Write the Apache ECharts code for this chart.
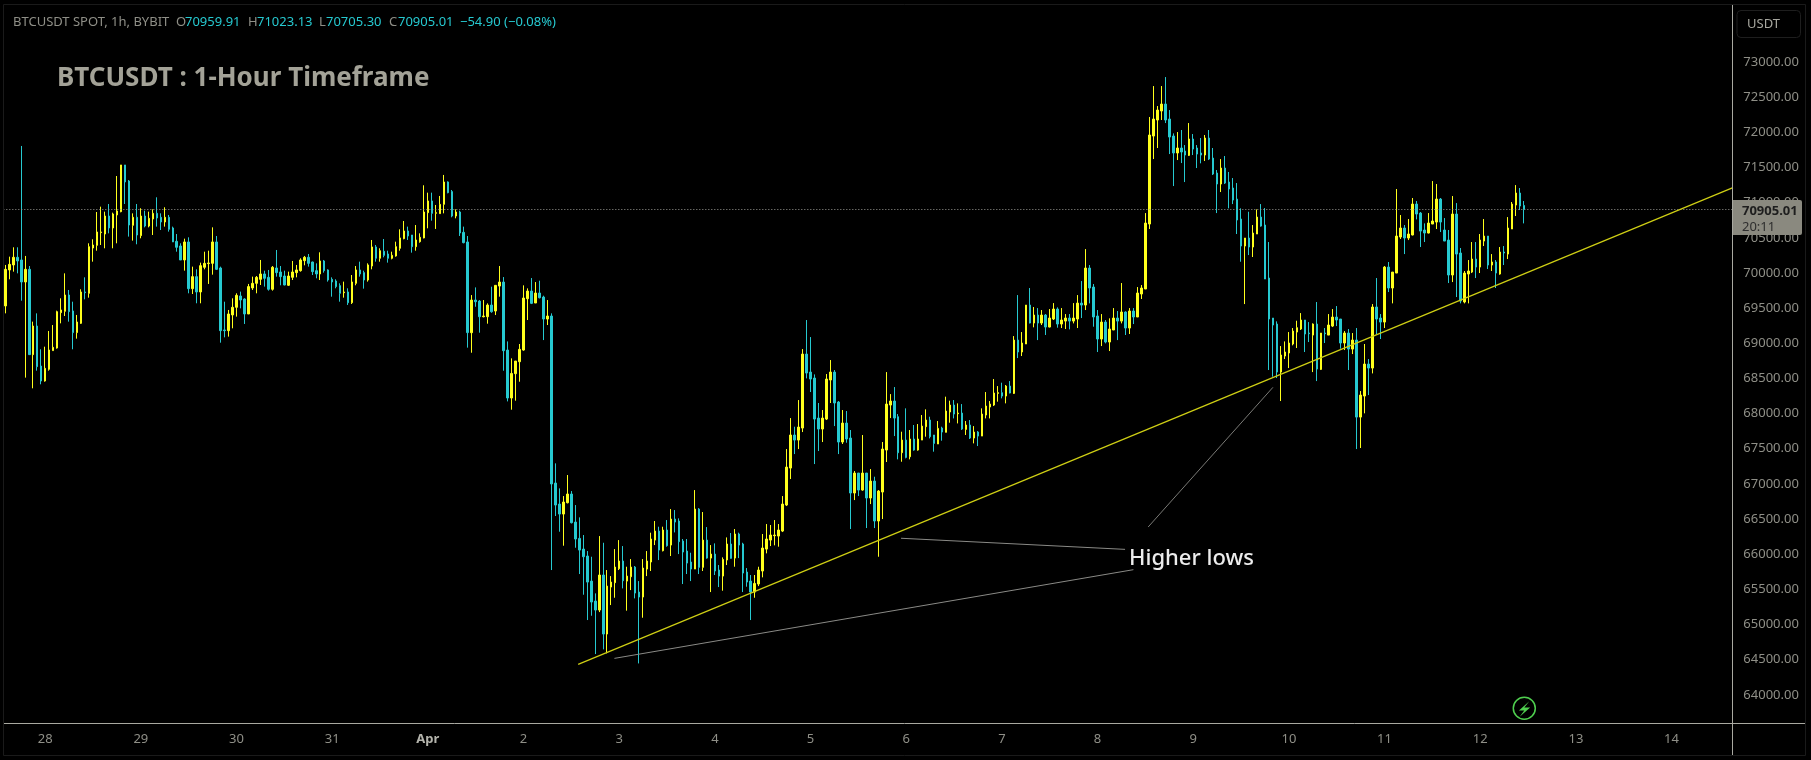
<!DOCTYPE html>
<html>
<head>
<meta charset="utf-8">
<style>html,body{margin:0;padding:0;background:#000;overflow:hidden}#c{width:1811px;height:760px}</style>
<script src="https://cdn.jsdelivr.net/npm/echarts@6/dist/echarts.min.js"></script>
</head>
<body>
<div id="c"></div>
<script>
const dayLabels = ['28','29','30','31','Apr','2','3','4','5','6','7','8','9','10','11','12','13','14'];
const opens = [
69531,70043,70114,70223,70185,69872,70052,68839,69246,68677,
68464,68630,68896,68933,69436,69455,69687,69460,69152,69284,
69730,69711,70355,70393,70574,70554,70810,70640,70825,70872,
71536,71308,70678,70792,70531,70810,70668,70768,70848,70792,
70725,70792,70640,70450,70384,70185,70441,69777,69948,69730,
70081,70133,70137,70441,70071,69190,69180,69403,69512,69673,
69630,69417,69787,69853,69910,69986,69938,69768,70071,70014,
69957,69825,69938,70005,70033,70175,70223,70156,70033,69986,
70171,70043,69910,69886,69820,69720,69730,69578,69853,70043,
70005,69900,70099,70370,70209,70308,70270,70209,70242,70351,
70488,70597,70540,70374,70445,70498,70858,71024,70848,70844,
70976,71294,71157,70810,70867,70578,70441,69151,69615,69601,
69378,69378,69544,69459,69814,69871,68904,68222,68568,68738,
68904,69634,69743,69573,69715,69658,69345,69388,67013,66714,
66572,66733,66857,66458,66226,66074,65975,65619,65335,65207,
65705,64866,65534,65596,65795,65904,65619,65681,65818,65463,
65392,65790,65890,66202,66330,66051,66345,66131,66501,66473,
66188,66046,65890,65790,66643,65814,66202,65946,66003,65776,
65690,65918,66146,65946,66288,66146,65747,65619,65463,65577,
65762,66074,66202,66264,66259,66330,66700,67226,67696,67624,
67795,68847,68591,68506,67937,67781,67923,68478,68591,68165,
67596,67866,67653,66871,67155,66913,67155,66800,67041,66473,
66885,67482,68122,68179,67956,67444,67624,67387,67639,67482,
67624,67814,67909,67696,67568,67795,67734,68023,68122,67999,
68008,67776,67838,67653,67738,67681,67980,68094,68122,68288,
68298,68250,68392,68288,69046,68876,68990,69544,69288,69402,
69288,69402,69231,69345,69487,69274,69316,69359,69316,69345,
69572,69544,70070,69800,69388,69061,69302,69018,69189,69359,
69316,69445,69217,69459,69374,69701,69772,70696,71947,72175,
72303,72402,72189,71947,71706,71777,71734,71672,71905,71777,
71706,71677,71919,71634,71421,71265,71492,71293,71208,71051,
70767,70383,70497,70369,70554,70795,70682,69928,69359,69274,
68591,68819,68862,68990,69160,69203,69331,69146,69117,69274,
68629,69146,69117,69245,69373,69345,69004,69146,68918,69046,
67951,68250,68705,68648,69516,69359,69302,70084,69786,69999,
70511,70639,70497,70540,70980,70852,70611,70568,70696,70724,
71051,70611,70468,69971,70838,70284,69587,69985,70013,70198,
70084,70454,70525,70113,70156,69985,70298,70269,70625,70966,
71137,70959.91];
const closes = [
70052,70123,70223,70171,69872,70052,68839,69246,68668,68464,
68644,68905,68943,69450,69474,69687,69450,69152,69303,69730,
69720,70374,70398,70583,70583,70810,70640,70839,70882,71536,
71294,70682,70792,70540,70810,70668,70777,70848,70782,70725,
70792,70621,70441,70365,70185,70441,69777,69948,69730,70104,
70137,70142,70441,70052,69180,69180,69417,69512,69682,69616,
69417,69806,69853,69938,69986,69924,69768,70081,70005,69948,
69829,69957,70014,70043,70185,70223,70137,70019,69986,70171,
70033,69900,69872,69806,69711,69730,69578,69872,70043,69986,
69900,70114,70370,70209,70317,70251,70209,70251,70374,70498,
70597,70526,70374,70469,70507,70867,71024,70848,70858,70976,
71294,71142,70810,70867,70569,70431,69152,69615,69591,69378,
69388,69544,69449,69824,69871,68895,68222,68572,68748,68914,
69644,69743,69568,69715,69648,69345,69388,67000,66700,66572,
66743,66857,66449,66217,66060,65965,65605,65321,65207,65705,
64866,65548,65605,65818,65904,65624,65690,65818,65449,65392,
65804,65904,66217,66330,66060,66345,66122,66501,66458,66179,
66032,65875,65790,66643,65814,66202,65946,66003,65762,65690,
65927,66146,65942,66288,66131,65733,65605,65463,65586,65776,
66089,66217,66274,66274,66345,66714,67240,67696,67624,67809,
68847,68577,68492,67923,67781,67937,68492,68591,68151,67596,
67866,67639,66871,67155,66913,67155,66800,67041,66473,66899,
67496,68136,68179,67937,67444,67624,67378,67639,67482,67639,
67823,67909,67672,67577,67790,67738,68037,68122,67994,68008,
67781,67838,67653,67738,67681,67994,68108,68136,68293,68298,
68250,68392,68293,69046,68876,69004,69544,69288,69402,69288,
69402,69231,69359,69487,69274,69331,69359,69316,69359,69572,
69544,70070,69786,69374,69061,69302,69018,69203,69359,69316,
69445,69217,69459,69374,69715,69786,70710,71962,72189,72317,
72402,72175,71933,71706,71777,71720,71677,71905,71762,71691,
71677,71919,71620,71407,71265,71492,71279,71194,71037,70753,
70383,70497,70369,70568,70795,70667,69914,69345,69260,68591,
68833,68876,69004,69174,69222,69331,69132,69137,69274,68634,
69146,69137,69260,69373,69331,69004,69146,68918,69046,67951,
68264,68705,68648,69516,69345,69302,70084,69786,70013,70525,
70639,70497,70554,70980,70838,70596,70568,70710,70739,71051,
70724,70454,69971,70838,70269,69601,69999,70028,70198,70084,
70468,70525,70113,70156,69999,70298,70284,70639,70980,71137,
70952,70905.01];
const highs = [
70114,70232,70365,70365,71806,70242,70099,69308,69426,68915,
68952,69175,69260,69464,69640,69995,69758,69592,69403,69768,
69938,70422,70479,70867,70943,70872,70981,70858,71379,71536,
71536,71322,70848,70981,70920,70886,70872,70905,71076,70848,
70934,70825,70659,70554,70422,70488,70507,70090,70052,70147,
70303,70317,70649,70526,70090,69592,69474,69640,69711,69735,
69640,69844,69948,69957,70185,70033,70043,70099,70327,70099,
70033,70019,70171,70114,70209,70242,70270,70161,70137,70294,
70185,70052,69938,69910,69853,69877,69782,69971,70099,70161,
70033,70137,70469,70398,70351,70483,70317,70303,70445,70621,
70739,70659,70540,70682,70564,71247,71142,71142,70967,71095,
71394,71303,71180,70905,70886,70659,70526,69686,69795,69615,
69615,69568,69805,69824,70099,69942,69027,68786,68748,68990,
69824,69781,69928,69871,69890,69677,69615,69426,67293,66937,
66828,67127,66899,66700,66525,66274,66046,65965,65444,66259,
66164,65776,65690,66074,66202,66117,65823,65932,65833,65619,
65932,66046,66307,66473,66392,66392,66487,66643,66629,66511,
66217,66217,66022,66913,66657,66601,66387,66131,66155,65847,
65956,66240,66302,66359,66307,66164,65804,65705,65705,65823,
66288,66430,66416,66487,66430,66828,67496,67937,67814,68193,
68918,69331,69089,68558,68151,68051,68563,68762,68620,68179,
68051,68037,67767,67184,67155,67696,67155,67212,67103,66913,
67596,68591,68278,68378,67994,67743,68075,67767,67838,67852,
67980,68061,67956,67696,67895,67814,68241,68184,68193,68146,
68136,67895,67909,67823,67752,68075,68307,68179,68492,68392,
68440,68407,68463,69103,69686,69160,69544,69786,69516,69501,
69473,69416,69487,69572,69511,69501,69416,69416,69572,69686,
69885,70340,70113,69843,69473,69416,69331,69355,69501,69459,
69857,69454,69501,69501,69800,69828,70852,72218,72658,72374,
72658,72786,72317,71985,72004,72033,71819,72132,71976,71819,
71919,71962,72033,71777,71464,71620,71663,71436,71350,71279,
70919,70497,70871,70682,70904,70980,70923,70440,69359,69312,
68961,69027,69160,69217,69321,69430,69331,69302,69283,69587,
69146,69217,69416,69487,69530,69345,69174,69203,69146,69217,
68321,68990,68776,69558,69928,69416,70099,70156,70013,71194,
70824,70682,70767,71066,71023,70867,70705,70852,71307,71265,
71066,70781,70611,71094,70994,70355,70028,70184,70440,70440,
70554,70767,70525,70269,70184,70369,70383,70795,71009,71250,
71208,71023.13];
const lows = [
69426,69910,70019,69995,69606,68512,68839,68360,68611,68417,
68455,68611,68896,68924,69284,69388,69308,68915,69066,69275,
69625,69649,70161,70317,70398,70351,70564,70351,70422,70863,
70981,70517,70460,70408,70493,70649,70649,70540,70659,70611,
70659,70588,70441,70303,70185,70033,69711,69701,69569,69569,
70052,69844,69976,70043,69009,69085,69095,69213,69379,69497,
69275,69417,69758,69711,69829,69806,69749,69749,69948,69825,
69825,69815,69900,69938,70019,70109,70090,69971,69924,69900,
70005,69877,69663,69782,69592,69649,69545,69559,69825,69948,
69777,69877,70052,70161,70161,70223,70147,70194,70232,70317,
70479,70469,70289,70317,70431,70493,70635,70744,70626,70844,
70848,71133,70792,70777,70526,70422,68938,68866,69520,69151,
69369,69279,69435,69402,69663,68610,68174,68056,68184,68454,
68895,69331,69558,69573,69639,69046,69260,65776,66544,66321,
66122,66724,66439,66093,65719,65425,65065,65126,64581,65178,
64648,64591,65278,65382,65776,65515,65198,65491,65373,64448,
65098,65690,65762,66131,65918,66041,66108,65975,66311,66003,
65577,65719,65619,65790,65719,65762,65937,65463,65705,65534,
65482,65847,65937,65823,65946,65463,65539,65065,65382,65548,
65672,66013,66117,66127,66108,66316,66686,67070,67425,67496,
67738,68501,68307,67283,67468,67596,67909,68151,67823,67425,
67568,67586,66359,66771,66828,66904,66373,66714,66373,65965,
66501,67312,67937,67681,67350,67316,67364,67350,67473,67473,
67624,67672,67648,67459,67568,67615,67734,67871,67932,67861,
67767,67696,67639,67577,67539,67681,67932,67932,68108,68170,
68217,68146,68288,68279,68790,68819,68990,69283,69227,69046,
69260,69118,69227,69331,69222,69217,69203,69198,69283,69217,
69359,69473,69568,69236,68876,68961,68999,68890,69189,69046,
69283,69118,69132,69274,69374,69630,69772,70625,71620,71777,
72175,72132,71691,71236,71606,71563,71293,71663,71677,71492,
71559,71592,71606,71393,70852,71151,71265,70919,70980,70554,
70160,69558,70255,70227,70554,70658,69914,68620,68525,68506,
68179,68776,68648,68971,68933,69189,68876,69018,68591,68463,
68620,69004,69117,69231,69245,68923,68904,68620,68847,67496,
67511,68004,68264,68572,69132,69061,69217,69729,69568,69999,
70483,70269,70468,70535,70762,70369,70440,70563,70696,70625,
70582,70454,69857,69871,69658,69568,69568,69568,69999,69928,
69999,70383,70056,70028,69786,69975,70113,70198,70625,70810,
70895,70705.30];

const slotCount = 434;
const firstDayIndex = 10;
const hoursPerDay = 24;

// [bar index, price] end points of the drawn lines
const trendLine = [[143.7, 64435], [433.4, 71213]];
const noteLineA = [[152.8, 64520], [283.0, 65781]];
const noteLineB = [[224.7, 66228], [280.9, 66070]];
const noteLineC = [[286.7, 66388], [318.0, 68374]];

const UP = '#ffff1c', DOWN = '#26c9d0', TXT = '#8f8f87';
const FONT = '"Noto Sans", "Open Sans", sans-serif';

const categories = [];
for (let i = 0; i < slotCount; i++) {
  const k = (i - firstDayIndex) / hoursPerDay;
  categories.push(Number.isInteger(k) && dayLabels[k] !== undefined ? dayLabels[k] : 'h' + i);
}
const candles = opens.map((o, i) => [o, closes[i], lows[i], highs[i]]);
const lastClose = closes[closes.length - 1];

function noteSeries(points, color, width) {
  return {
    type: 'line', xAxisIndex: 1, yAxisIndex: 0, data: points, symbol: 'none', silent: true,
    lineStyle: { color: color, width: width }, z: 5, animation: false
  };
}
function label(text, x, y, fill, size, weight, family) {
  return { type: 'text', x: x, y: y, z: 50, silent: true,
    style: { text: text, fill: fill, fontSize: size, fontWeight: weight || 'normal',
      fontFamily: family || FONT, textVerticalAlign: 'middle', verticalAlign: 'middle' } };
}
const cx = 1524.3, cy = 708.3, GREEN = '#4fcf4f', S = 1.25;

const chart = echarts.init(document.getElementById('c'), null, { renderer: 'canvas' });
chart.setOption({
  animation: false,
  backgroundColor: '#000000',
  grid: { left: 3.34, top: 26.84, width: 1730, height: 703.26, containLabel: false, outerBoundsMode: 'none' },
  xAxis: [
    { type: 'category', data: categories, boundaryGap: true, position: 'bottom',
      axisLine: { show: false }, axisTick: { show: false }, splitLine: { show: false },
      axisLabel: {
        margin: 3, color: TXT, fontSize: 13, fontFamily: FONT, hideOverlap: false,
        interval: (i, v) => dayLabels.includes(v),
        formatter: v => v === 'Apr' ? '{b|Apr}' : v,
        rich: { b: { color: '#b4b4ac', fontSize: 13, fontWeight: 'bold', fontFamily: FONT } }
      } },
    { type: 'value', min: -0.5, max: slotCount - 0.5, show: false, position: 'top' }
  ],
  yAxis: [{
    type: 'value', position: 'right', min: 63500, max: 73500, interval: 500, scale: true,
    axisLine: { show: false }, axisTick: { show: false }, splitLine: { show: false },
    axisLabel: { margin: 10, color: TXT, fontSize: 13, fontFamily: FONT,
      formatter: v => (v >= 64000 && v <= 73000) ? v.toFixed(2) : '' }
  }],
  series: [
    { type: 'candlestick', xAxisIndex: 0, yAxisIndex: 0, data: candles, barWidth: 2, z: 3,
      itemStyle: { color: UP, color0: DOWN, borderColor: UP, borderColor0: DOWN, borderWidth: 1 },
      markLine: { silent: true, symbol: 'none', animation: false, label: { show: false },
        lineStyle: { color: '#9a9a94', type: [1, 2], width: 1 },
        data: [{ yAxis: lastClose }] } },
    noteSeries(trendLine, '#cfcf14', 1.2),
    noteSeries(noteLineA, '#8a8a86', 1),
    noteSeries(noteLineB, '#8a8a86', 1),
    noteSeries(noteLineC, '#7a7a76', 1)
  ],
  graphic: { elements: [
    { type: 'rect', z: 40, silent: true, shape: { x: 3.5, y: 4.5, width: 1802, height: 751 },
      style: { fill: 'none', stroke: '#1a1a1a', lineWidth: 1 } },
    { type: 'line', z: 41, silent: true, shape: { x1: 1732.5, y1: 5, x2: 1732.5, y2: 755 },
      style: { stroke: '#a9a9a1', lineWidth: 1 } },
    { type: 'line', z: 41, silent: true, shape: { x1: 4, y1: 723.5, x2: 1805, y2: 723.5 },
      style: { stroke: '#a9a9a1', lineWidth: 1 } },
    { type: 'rect', z: 42, silent: true, shape: { x: 1737, y: 10.5, width: 63.5, height: 27, r: 4 },
      style: { fill: '#000', stroke: '#1e1e1e', lineWidth: 1 } },
    label('USDT', 1747, 24, '#a8a8a0', 13),
    label('BTCUSDT SPOT, 1h, BYBIT', 13, 22, '#8f8f87', 13),
    label('O', 176, 22, '#8f8f87', 13), label('70959.91', 185, 22, DOWN, 13),
    label('H', 248, 22, '#8f8f87', 13), label('71023.13', 257, 22, DOWN, 13),
    label('L', 319, 22, '#8f8f87', 13), label('70705.30', 326, 22, DOWN, 13),
    label('C', 389, 22, '#8f8f87', 13), label('70905.01', 398, 22, DOWN, 13),
    label('\u221254.90 (\u22120.08%)', 460, 22, DOWN, 13),
    label('BTCUSDT : 1-Hour Timeframe', 57, 79, '#a3a297', 26, 'bold'),
    label('Higher lows', 1129, 559, '#ececec', 22, 500),
    { type: 'rect', z: 60, silent: true, shape: { x: 1733, y: 200, width: 69, height: 35, r: [0, 2, 2, 0] },
      style: { fill: '#8a897f' } },
    Object.assign(label('70905.01', 1742, 211, '#1e1e1e', 13, 'bold'), { z: 61 }),
    Object.assign(label('20:11', 1742, 227, '#2e2e2e', 13), { z: 61 }),
    { type: 'circle', z: 45, silent: true, shape: { cx: cx, cy: cy, r: 11 },
      style: { fill: 'none', stroke: GREEN, lineWidth: 1.5 } },
    { type: 'polygon', z: 45, silent: true,
      shape: { points: [[cx + 4*S, cy - 5.7*S], [cx - 4.3*S, cy + 1.7*S], [cx, cy + 1.7*S], [cx - 3.7*S, cy + 6.7*S], [cx + 4.7*S, cy - 0.7*S], [cx, cy - 0.7*S]] },
      style: { fill: GREEN } }
  ] }
});
</script>
</body>
</html>
